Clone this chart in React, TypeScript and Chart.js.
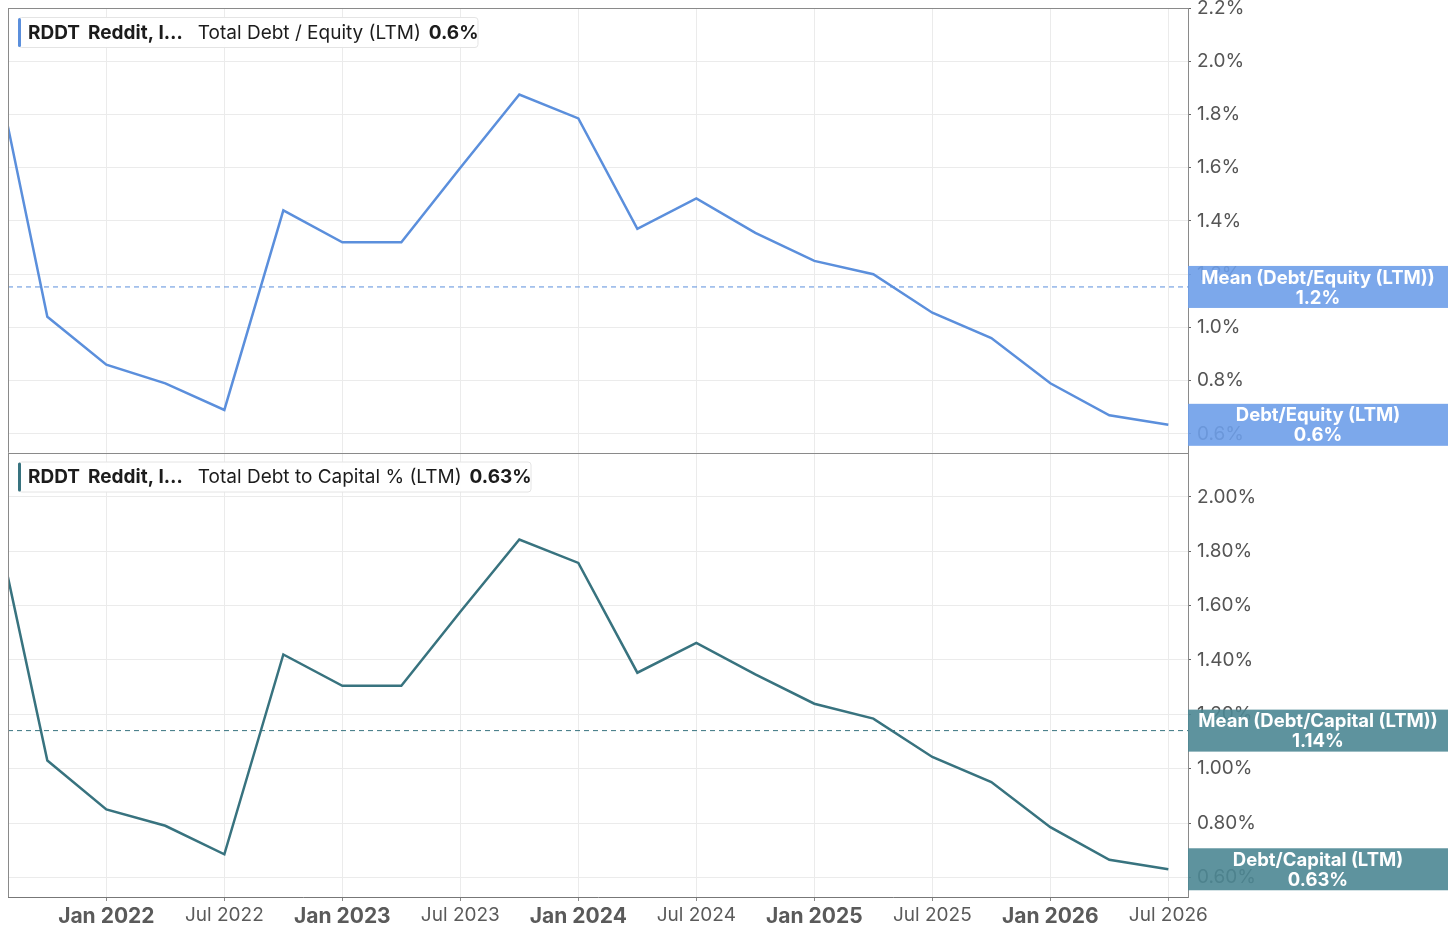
import { useEffect, useRef } from 'react';
import { Chart, registerables } from 'chart.js';

Chart.register(...registerables);

// quarterly periods (first one sits just left of the visible axis)
const periods = [
  '2021-07', '2021-10', '2022-01', '2022-04', '2022-07', '2022-10', '2023-01',
  '2023-04', '2023-07', '2023-10', '2024-01', '2024-04', '2024-07', '2024-10',
  '2025-01', '2025-04', '2025-07', '2025-10', '2026-01', '2026-04', '2026-07',
];
const debtEquity = [
  2.11, 1.04, 0.86, 0.79, 0.69, 1.44, 1.32, 1.32, 1.6, 1.875, 1.785,
  1.37, 1.485, 1.355, 1.25, 1.2, 1.055, 0.96, 0.79, 0.67, 0.634,
];
const debtCapital = [
  2.04, 1.03, 0.85, 0.79, 0.685, 1.42, 1.305, 1.305, 1.577, 1.843, 1.757,
  1.353, 1.463, 1.347, 1.239, 1.184, 1.043, 0.951, 0.785, 0.665, 0.63,
];
const meanDebtEquity = 1.152;
const meanDebtCapital = 1.14;

const xTickPeriods = [
  '2022-01', '2022-07', '2023-01', '2023-07', '2024-01',
  '2024-07', '2025-01', '2025-07', '2026-01', '2026-07',
];
const xTickLabels = [
  'Jan 2022', 'Jul 2022', 'Jan 2023', 'Jul 2023', 'Jan 2024',
  'Jul 2024', 'Jan 2025', 'Jul 2025', 'Jan 2026', 'Jul 2026',
];
const xRange = ['2021-08', '2026-08'];
const deTicks = [0.6, 0.8, 1.0, 1.2, 1.4, 1.6, 1.8, 2.0, 2.2];
const dcTicks = [0.6, 0.8, 1.0, 1.2, 1.4, 1.6, 1.8, 2.0];
const deRange = [0.53, 2.2];
const dcRange = [0.528, 2.163];

const BLUE = '#5b8fdc';
const BLUE_BOX = 'rgba(110,158,233,0.9)';
const TEAL = '#38737f';
const TEAL_BOX = 'rgba(76,135,147,0.9)';
const FONT = 'Inter, "Noto Sans", sans-serif';

// months from Jan 2022
const toMonth = (p: string) => {
  const [y, m] = p.split('-').map(Number);
  return (y - 2022) * 12 + (m - 1);
};

const drawLegend = (ctx: CanvasRenderingContext2D, x: number, y: number, color: string, parts: [string, boolean, number][]) => {
  let w = 9;
  parts.forEach(([t, b, gap]) => {
    ctx.font = `${b ? 'bold ' : ''}19px ${FONT}`;
    w += ctx.measureText(t).width + gap;
  });
  const h = 30;
  ctx.fillStyle = 'rgba(255,255,255,0.92)';
  ctx.strokeStyle = '#e4e4e4';
  ctx.lineWidth = 1;
  ctx.beginPath();
  ctx.roundRect(x + 0.5, y + 0.5, w, h, 3);
  ctx.fill();
  ctx.stroke();
  ctx.fillStyle = color;
  ctx.beginPath();
  ctx.roundRect(x, y + 1, 3, h - 1, 1.5);
  ctx.fill();
  let tx = x + 10;
  ctx.fillStyle = '#1c1c1c';
  ctx.textBaseline = 'middle';
  ctx.textAlign = 'left';
  parts.forEach(([t, b, gap]) => {
    ctx.font = `${b ? 'bold ' : ''}19px ${FONT}`;
    ctx.fillText(t, tx, y + h / 2 + 1);
    tx += ctx.measureText(t).width + gap;
  });
};

const drawTag = (ctx: CanvasRenderingContext2D, x: number, yc: number, color: string, l1: string, l2: string) => {
  const w = 260;
  const h = 42;
  ctx.fillStyle = color;
  ctx.fillRect(x, yc - h / 2, w, h);
  ctx.fillStyle = '#ffffff';
  ctx.font = `bold 18.5px ${FONT}`;
  ctx.textAlign = 'center';
  ctx.textBaseline = 'middle';
  ctx.fillText(l1, x + w / 2, yc - 9);
  ctx.fillText(l2, x + w / 2, yc + 11);
};

const panelPlugin = {
  id: 'panels',
  afterDatasetsDraw(chart: any) {
    const { ctx, chartArea } = chart;
    const sep = chart.scales.yTop.bottom;
    ctx.save();
    ctx.strokeStyle = '#8a8a8a';
    ctx.lineWidth = 1;
    ctx.beginPath();
    ctx.moveTo(chartArea.left + 0.5, chartArea.top);
    ctx.lineTo(chartArea.left + 0.5, chartArea.bottom);
    ctx.moveTo(chartArea.left, chartArea.top + 0.5);
    ctx.lineTo(chartArea.right, chartArea.top + 0.5);
    ctx.moveTo(chartArea.left, Math.round(sep) + 0.5);
    ctx.lineTo(chartArea.right, Math.round(sep) + 0.5);
    ctx.stroke();
    ctx.restore();
  },
  afterDraw(chart: any) {
    const { ctx, chartArea } = chart;
    const yTop = chart.scales.yTop;
    const yBot = chart.scales.yBot;
    const lastDE = debtEquity[debtEquity.length - 1];
    const lastDC = debtCapital[debtCapital.length - 1];
    ctx.save();
    drawTag(ctx, chartArea.right, yTop.getPixelForValue(meanDebtEquity), BLUE_BOX,
      'Mean (Debt/Equity (LTM))', meanDebtEquity.toFixed(1) + '%');
    drawTag(ctx, chartArea.right, yTop.getPixelForValue(lastDE), BLUE_BOX,
      'Debt/Equity (LTM)', lastDE.toFixed(1) + '%');
    drawTag(ctx, chartArea.right, yBot.getPixelForValue(meanDebtCapital), TEAL_BOX,
      'Mean (Debt/Capital (LTM))', meanDebtCapital.toFixed(2) + '%');
    drawTag(ctx, chartArea.right, yBot.getPixelForValue(lastDC), TEAL_BOX,
      'Debt/Capital (LTM)', lastDC.toFixed(2) + '%');
    drawLegend(ctx, chartArea.left + 10, yTop.top + 9, BLUE, [
      ['RDDT', true, 8], ['Reddit, I…', true, 15],
      ['Total Debt / Equity (LTM)', false, 8], [lastDE.toFixed(1) + '%', true, 0],
    ]);
    drawLegend(ctx, chartArea.left + 10, yBot.top + 9, TEAL, [
      ['RDDT', true, 8], ['Reddit, I…', true, 15],
      ['Total Debt to Capital % (LTM)', false, 8], [lastDC.toFixed(2) + '%', true, 0],
    ]);
    ctx.restore();
  },
};

const yScale = (ticks: number[], range: number[], digits: number) => ({
  type: 'linear',
  position: 'right',
  stack: 'panels',
  stackWeight: 1,
  min: range[0],
  max: range[1],
  afterBuildTicks: (s: any) => { s.ticks = ticks.map((v) => ({ value: v })); },
  afterFit: (s: any) => { s.width = 260; s.paddingTop = 0; s.paddingBottom = 0; },
  grid: { color: '#ebebeb', tickColor: '#666', tickLength: 3 },
  border: { color: '#8a8a8a' },
  ticks: {
    padding: 6,
    color: '#555',
    font: { family: FONT, size: 19 },
    callback: (v: any) => Number(v).toFixed(digits) + '%',
  },
});

const App = () => {
  const chartRef = useRef<HTMLCanvasElement | null>(null);

  useEffect(() => {
    const ctx = chartRef.current;
    if (!ctx) return;
    const xs = periods.map(toMonth);
    const xMin = toMonth(xRange[0]);
    const xMax = toMonth(xRange[1]);
    const xTicks = xTickPeriods.map(toMonth);

    const chart = new Chart(ctx, {
      type: 'line',
      data: {
        datasets: [
          {
            data: xs.map((x, i) => ({ x, y: debtEquity[i] })),
            yAxisID: 'yTop', borderColor: BLUE, borderWidth: 2.5, pointRadius: 0, tension: 0,
          },
          {
            data: [{ x: xMin, y: meanDebtEquity }, { x: xMax, y: meanDebtEquity }],
            yAxisID: 'yTop', borderColor: BLUE, borderWidth: 1, borderDash: [5, 4], pointRadius: 0,
          },
          {
            data: xs.map((x, i) => ({ x, y: debtCapital[i] })),
            yAxisID: 'yBot', borderColor: TEAL, borderWidth: 2.5, pointRadius: 0, tension: 0,
          },
          {
            data: [{ x: xMin, y: meanDebtCapital }, { x: xMax, y: meanDebtCapital }],
            yAxisID: 'yBot', borderColor: TEAL, borderWidth: 1, borderDash: [5, 4], pointRadius: 0,
          },
        ],
      },
      options: {
        responsive: false,
        animation: false,
        devicePixelRatio: 1,
        layout: { padding: { left: 8, top: 8, right: 8, bottom: 0 } },
        plugins: { legend: { display: false }, tooltip: { enabled: false } },
        scales: {
          x: {
            type: 'linear',
            min: xMin,
            max: xMax,
            afterBuildTicks: (s: any) => { s.ticks = xTicks.map((v) => ({ value: v })); },
            afterFit: (s: any) => { s.height = 42; s.paddingLeft = 0; s.paddingRight = 0; },
            grid: { color: '#ebebeb', tickColor: '#888', tickLength: 4 },
            border: { color: '#777' },
            ticks: {
              padding: 3,
              color: '#5a5a5a',
              maxRotation: 0,
              autoSkip: false,
              font: (c: any) => (c.tick && c.tick.value % 12 === 0
                ? { family: FONT, size: 21, weight: 'bold' }
                : { family: FONT, size: 19 }),
              callback: (v: any) => xTickLabels[xTicks.indexOf(Number(v))] ?? '',
            },
          },
          yTop: yScale(deTicks, deRange, 1),
          yBot: yScale(dcTicks, dcRange, 2),
        } as any,
      },
      plugins: [panelPlugin],
    } as any);

    return () => {
      chart.destroy();
    };
  }, []);

  return (
    <div style={{ position: 'absolute', left: 0, top: 0, width: 1456, height: 939, background: '#fff' }}>
      <canvas ref={chartRef} width={1456} height={939} style={{ display: 'block' }}></canvas>
    </div>
  );
};

export default App;
